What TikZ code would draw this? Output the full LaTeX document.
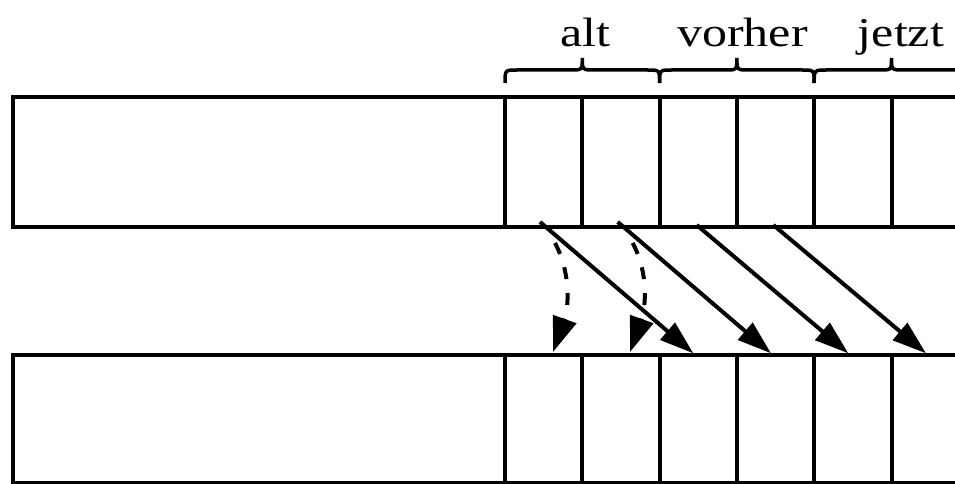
\documentclass[tikz,border=0pt]{standalone}
\usepackage{fontspec}
\setmainfont{Liberation Serif}
\usetikzlibrary{arrows.meta}
\begin{document}
\begin{tikzpicture}[x=1pt,y=-1pt,
  box/.style={draw, line width=4pt, inner sep=0pt, outer sep=0pt},
  cell/.style={box, minimum width=77.3pt},
  lbl/.style={font=\fontsize{41}{44}\selectfont, anchor=base, inner sep=0pt},
  brc/.style={line width=3.5pt},
  mv/.style={line width=4pt, -{Triangle[length=34pt,width=22pt]}},
  dmv/.style={line width=4pt, dash pattern=on 12pt off 14pt, -{Triangle[length=35pt,width=24pt]}}]
\useasboundingbox (0,0) rectangle (955,484);
\clip (0,0) rectangle (955,484);
% top row
\node[box, minimum width=492pt, minimum height=129.5pt] (tl) at (259,161.75) {};
\foreach \i in {1,...,6} {
  \node[cell, minimum height=129.5pt] (t\i) at ({505+77.3*(\i-0.5)},161.75) {};
}
% bottom row
\node[box, minimum width=492pt, minimum height=128pt] (bl) at (259,419) {};
\foreach \i in {1,...,6} {
  \node[cell, minimum height=128pt] (b\i) at ({505+77.3*(\i-0.5)},419) {};
}
% braces
\foreach \a/\b in {505/659.6, 659.6/814.2, 814.2/968.8} {
  \pgfmathsetmacro\m{(\a+\b)/2}
  \draw[brc] (\a,83) .. controls (\a,70) .. (\a+12,70) -- (\m-12,70)
    .. controls (\m,70) .. (\m,58) .. controls (\m,70) .. (\m+12,70)
    -- (\b-12,70) .. controls (\b,70) .. (\b,83);
}
% labels
\node[lbl] (alt) at (585.5,46.7) {\scalebox{1.22}[1]{alt}};
\node[lbl] (vorher) at (742.5,46.7) {\scalebox{1.22}[1]{vorher}};
\node[lbl] (jetzt) at (901,46.7) {\scalebox{1.22}[1]{jetzt}};
% arrow endpoints
\coordinate (s1) at (540,222);   \coordinate (e1) at (693.3,353.3);
\coordinate (s2) at (617.7,222); \coordinate (e2) at (771,353.3);
\coordinate (s3) at (696.7,225); \coordinate (e3) at (848.3,353.3);
\coordinate (s4) at (773.3,225); \coordinate (e4) at (926,353.3);
\coordinate (d1s) at (555,243);  \coordinate (d1e) at (553,352);
\coordinate (d2s) at (632.7,243); \coordinate (d2e) at (630,352);
% arrows
\draw[mv] (s1) -- (e1);
\draw[mv] (s2) -- (e2);
\draw[mv] (s3) -- (e3);
\draw[mv] (s4) -- (e4);
\draw[dmv] (d1s) .. controls +(17,32) and +(15,-42) .. (d1e);
\draw[dmv] (d2s) .. controls +(17,32) and +(15,-42) .. (d2e);
\end{tikzpicture}
\end{document}
